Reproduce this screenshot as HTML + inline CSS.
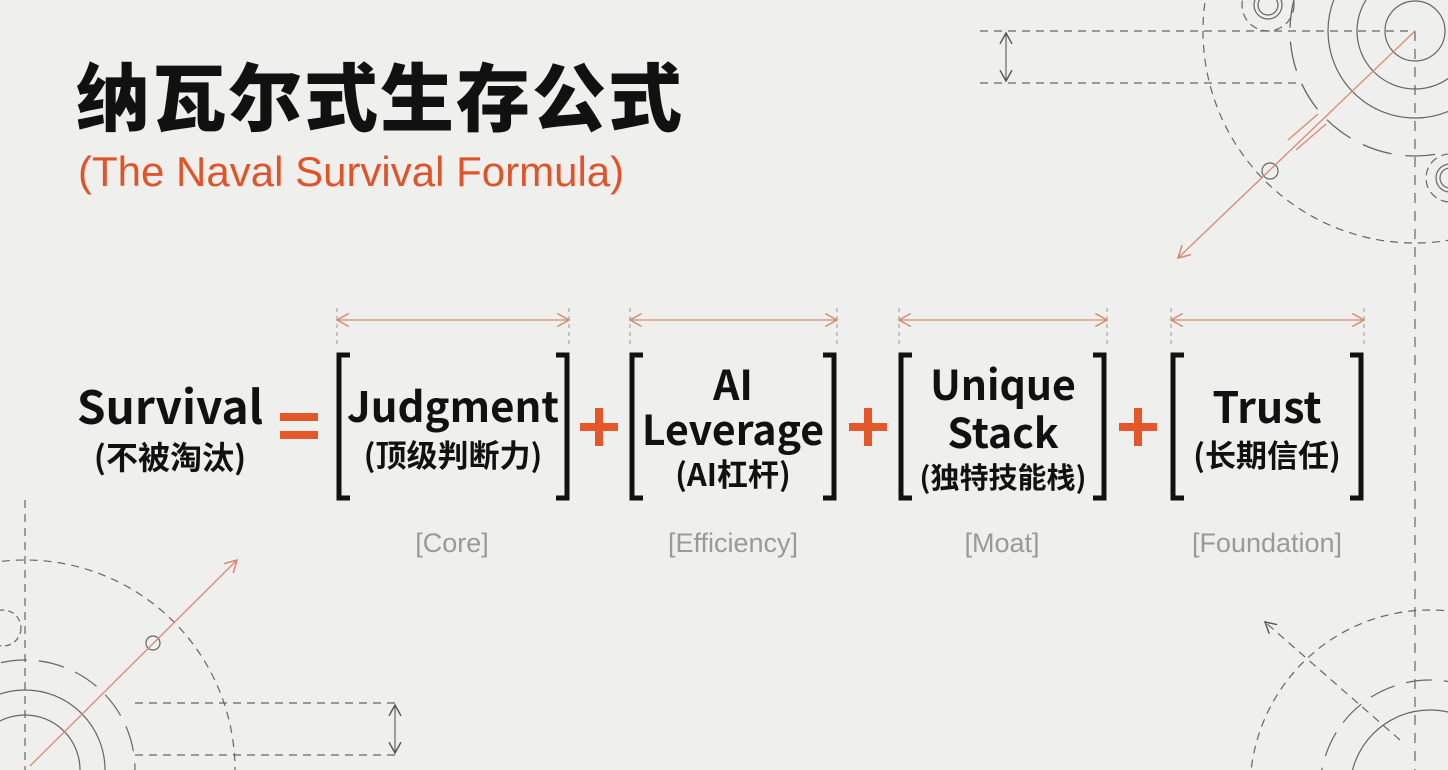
<!DOCTYPE html>
<html><head><meta charset="utf-8"><style>
html,body{margin:0;padding:0;overflow:hidden;width:1448px;height:770px}
body{background:#efefed;position:relative;font-family:"Liberation Sans","Noto Sans CJK SC",sans-serif}
.a{position:absolute;white-space:nowrap}
.title{left:76px;top:40px;font-size:74px;font-weight:900;letter-spacing:2px;color:#111;font-family:"Noto Sans CJK SC",sans-serif}
.sub{left:78px;top:148px;font-size:42px;color:#e0542a}
.big{font-family:"Noto Sans CJK SC","Liberation Sans",sans-serif;font-weight:700;color:#111;text-align:center;line-height:1}
.lab{font-size:27px;color:#9a9a9a;text-align:center}
.op{color:#e4572a;font-weight:700;font-size:64px;font-family:"Liberation Sans",sans-serif;line-height:1}
</style></head><body>
<svg class="a" style="left:0;top:0" width="1448" height="770">
<defs>
<marker id="oa" markerWidth="12" markerHeight="12" refX="10" refY="6" orient="auto-start-reverse"><path d="M1,1 L10,6 L1,11" fill="none" stroke="#d98a70" stroke-width="1.2"/></marker>
<marker id="ka" markerWidth="12" markerHeight="12" refX="10" refY="6" orient="auto-start-reverse"><path d="M1,1 L10,6 L1,11" fill="none" stroke="#555" stroke-width="1.2"/></marker>
</defs>
<g fill="none" stroke="#666" stroke-width="1.2">
<line x1="980" y1="31" x2="1415" y2="31" stroke-dasharray="8,6"/>
<line x1="980" y1="83" x2="1300" y2="83" stroke-dasharray="8,6"/>
<line x1="1006" y1="33" x2="1006" y2="81" marker-start="url(#ka)" marker-end="url(#ka)"/>
<line x1="1415" y1="31" x2="1415" y2="770" stroke-dasharray="10,8"/>
<circle cx="1415" cy="31" r="212" stroke-dasharray="8,6"/>
<circle cx="1415" cy="31" r="30"/><circle cx="1415" cy="31" r="58"/><circle cx="1415" cy="31" r="87"/>
<circle cx="1415" cy="31" r="125" stroke-dasharray="30,14" stroke-width="1.3"/>
<circle cx="1268" cy="5" r="26" stroke-dasharray="8,5"/><circle cx="1268" cy="5" r="14"/><circle cx="1268" cy="5" r="10"/>
<circle cx="1450" cy="178" r="24" stroke-dasharray="8,5"/><circle cx="1450" cy="178" r="14"/><circle cx="1450" cy="178" r="10"/>
<circle cx="1270" cy="171" r="8"/>
<line x1="25" y1="500" x2="25" y2="770" stroke-dasharray="8,6"/>
<line x1="135" y1="703" x2="400" y2="703" stroke-dasharray="8,6"/>
<line x1="135" y1="755" x2="400" y2="755" stroke-dasharray="8,6"/>
<line x1="395" y1="705" x2="395" y2="753" marker-start="url(#ka)" marker-end="url(#ka)"/>
<circle cx="25" cy="770" r="210" stroke-dasharray="8,6"/>
<circle cx="25" cy="770" r="110" stroke-dasharray="26,12"/>
<circle cx="25" cy="770" r="80"/><circle cx="25" cy="770" r="55"/>
<circle cx="3" cy="628" r="18" stroke-dasharray="6,4"/>
<circle cx="153" cy="643" r="7"/>
<circle cx="1430" cy="790" r="180" stroke-dasharray="8,6"/>
<circle cx="1430" cy="790" r="110" stroke-dasharray="26,12"/>
<circle cx="1430" cy="790" r="80"/>
<line x1="1400" y1="740" x2="1265" y2="622" stroke-dasharray="8,6" marker-end="url(#ka)"/>
</g>
<g stroke="#d98a70" stroke-width="1.3" fill="none">
<line x1="1415" y1="31" x2="1178" y2="258" marker-end="url(#oa)"/>
<line x1="30" y1="766" x2="237" y2="560" marker-end="url(#oa)"/>
<line x1="1288" y1="140" x2="1318" y2="114"/><line x1="1296" y1="150" x2="1326" y2="124"/>
<line x1="337" y1="320" x2="569" y2="320" marker-start="url(#oa)" marker-end="url(#oa)"/>
<line x1="630" y1="320" x2="837" y2="320" marker-start="url(#oa)" marker-end="url(#oa)"/>
<line x1="899" y1="320" x2="1107" y2="320" marker-start="url(#oa)" marker-end="url(#oa)"/>
<line x1="1171" y1="320" x2="1364" y2="320" marker-start="url(#oa)" marker-end="url(#oa)"/>
</g>
<g stroke="#999" stroke-width="1" stroke-dasharray="4,4">
<line x1="337" y1="308" x2="337" y2="346"/><line x1="569" y1="308" x2="569" y2="346"/>
<line x1="630" y1="308" x2="630" y2="346"/><line x1="837" y1="308" x2="837" y2="346"/>
<line x1="899" y1="308" x2="899" y2="346"/><line x1="1107" y1="308" x2="1107" y2="346"/>
<line x1="1171" y1="308" x2="1171" y2="346"/><line x1="1364" y1="308" x2="1364" y2="346"/>
</g>
<g fill="none" stroke="#111" stroke-width="5">
<path d="M350,355 H339 V498 H350"/><path d="M556,355 H567 V498 H556"/>
<path d="M643,355 H632 V498 H643"/><path d="M823,355 H834 V498 H823"/>
<path d="M912,355 H901 V498 H912"/><path d="M1093,355 H1104 V498 H1093"/>
<path d="M1184,355 H1173 V498 H1184"/><path d="M1350,355 H1361 V498 H1350"/>
</g>
<g fill="#e4572a">
<rect x="280" y="413" width="38" height="8"/><rect x="280" y="431" width="38" height="8"/>
<rect x="580" y="423" width="38" height="8"/><rect x="595" y="408" width="8" height="38"/>
<rect x="849" y="423" width="38" height="8"/><rect x="864" y="408" width="8" height="38"/>
<rect x="1119" y="423" width="38" height="8"/><rect x="1134" y="408" width="8" height="38"/>
</g>
</svg>
<div class="a title">纳瓦尔式生存公式</div>
<div class="a sub">(The Naval Survival Formula)</div>
<div class="a big" style="left:70px;top:382px;width:200px;font-size:46px">Survival</div>
<div class="a big" style="left:70px;top:440px;width:200px;font-size:32px">(不被淘汰)</div>
<div class="a big" style="left:340px;top:384px;width:226px;font-size:42px">Judgment</div>
<div class="a big" style="left:340px;top:438px;width:226px;font-size:31px">(顶级判断力)</div>
<div class="a big" style="left:633px;top:362px;width:200px;font-size:41px">AI</div>
<div class="a big" style="left:633px;top:407px;width:200px;font-size:41px">Leverage</div>
<div class="a big" style="left:633px;top:457px;width:200px;font-size:31px">(AI杠杆)</div>
<div class="a big" style="left:902px;top:362px;width:202px;font-size:41px">Unique</div>
<div class="a big" style="left:902px;top:410px;width:202px;font-size:41px">Stack</div>
<div class="a big" style="left:902px;top:462px;width:202px;font-size:29px">(独特技能栈)</div>
<div class="a big" style="left:1174px;top:384px;width:186px;font-size:43px">Trust</div>
<div class="a big" style="left:1174px;top:438px;width:186px;font-size:31px">(长期信任)</div>
<div class="a lab" style="left:352px;top:528px;width:200px">[Core]</div>
<div class="a lab" style="left:633px;top:528px;width:200px">[Efficiency]</div>
<div class="a lab" style="left:902px;top:528px;width:200px">[Moat]</div>
<div class="a lab" style="left:1167px;top:528px;width:200px">[Foundation]</div>
</body></html>
